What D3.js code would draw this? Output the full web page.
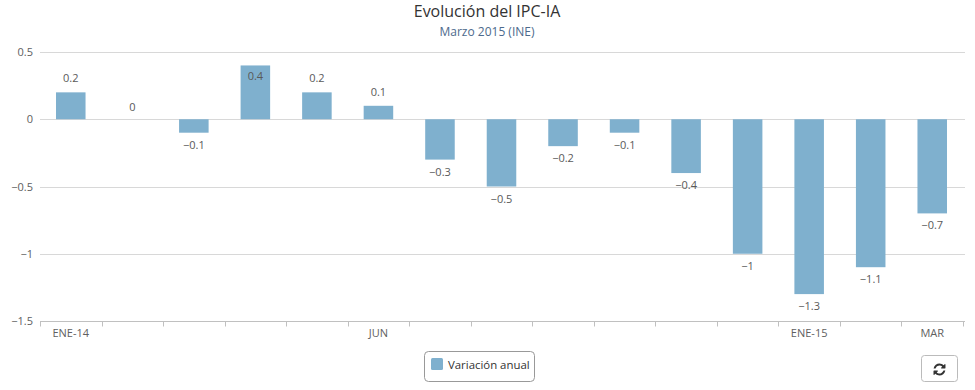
<!DOCTYPE html>
<html><head><meta charset="utf-8">
<script src="https://cdn.jsdelivr.net/npm/d3@7"></script>
<style>
body{margin:0;background:#fff;}
svg{font-family:"Open Sans","DejaVu Sans",sans-serif;}
</style></head>
<body><svg id="c" width="975" height="390"></svg>
<script>
const categories = ["ENE-14","FEB","MAR","ABR","MAY","JUN","JUL","AGO","SEP","OCT","NOV","DIC","ENE-15","FEB","MAR"];
const shownIdx = [0, 5, 12, 14];
const values = [0.2, 0, -0.1, 0.4, 0.2, 0.1, -0.3, -0.5, -0.2, -0.1, -0.4, -1, -1.3, -1.1, -0.7];
const yTicks = [0.5, 0, -0.5, -1, -1.5];
const seriesName = "Variación anual";

const svg = d3.select("#c");
const ids = categories.map((c,i)=>i);
const x = d3.scaleBand().domain(ids).range([40, 963]).paddingInner(0.52).paddingOuter(0.26);
const y = d3.scaleLinear().domain([-1.5, 0.5]).range([321, 52]);
const barColor = "#7fb0ce";

// title
svg.append("text").attr("x",487).attr("y",17).attr("text-anchor","middle")
  .attr("font-size",16).attr("fill","#333").text("Evolución del IPC-IA");
svg.append("text").attr("x",487).attr("y",36).attr("text-anchor","middle")
  .attr("font-size",12).attr("fill","#4d6a8c").text("Marzo 2015 (INE)");

// grid
svg.append("g").selectAll("line").data(yTicks.filter(d=>d>-1.5)).join("line")
  .attr("x1",40).attr("x2",965).attr("y1",d=>Math.round(y(d))+0.5).attr("y2",d=>Math.round(y(d))+0.5)
  .attr("stroke","#d8d8d8").attr("stroke-width",1);

// y labels
svg.append("g").selectAll("text").data(yTicks).join("text")
  .attr("x",33).attr("y",d=>y(d)+4).attr("text-anchor","end")
  .attr("font-size",11).attr("fill","#606060").text(d=>d3.format("")(d));

// x axis
const xa = d3.axisBottom(x).tickSize(0).tickFormat(i=>shownIdx.includes(i)?categories[i]:"");
const gx = svg.append("g").attr("transform","translate(0,321.5)").call(xa);
gx.select(".domain").attr("stroke","#c0c0c0").attr("d","M40,0H965");
gx.selectAll("text").attr("font-size",11).attr("fill","#606060").attr("dy","1.1em").attr("font-family","'Open Sans','DejaVu Sans',sans-serif");
// boundary ticks
const bounds = ids.map(i=>x(i)-x.step()*x.paddingInner()/2).concat([963]);
gx.append("g").selectAll("line").data(bounds).join("line")
  .attr("x1",d=>Math.round(d)+0.5).attr("x2",d=>Math.round(d)+0.5).attr("y1",0).attr("y2",5)
  .attr("stroke","#c0c0c0");

// bars
svg.append("g").selectAll("rect").data(values).join("rect")
  .attr("x",(d,i)=>x(i)).attr("width",x.bandwidth())
  .attr("y",d=>y(Math.max(0,d))).attr("height",d=>Math.abs(y(d)-y(0)))
  .attr("fill",barColor);

// value labels
svg.append("g").selectAll("text").data(values).join("text")
  .attr("x",(d,i)=>x(i)+x.bandwidth()/2)
  .attr("y",d=>{
    if(d>0){ const top=y(d); return top-14<52 ? top+15 : top-10; }
    if(d===0) return y(0)-8;
    return y(d)+16;
  })
  .attr("text-anchor","middle").attr("font-size",11).attr("fill","#595959")
  .text(d=>d3.format("")(d));

// legend
const lg = svg.append("g");
lg.append("rect").attr("x",424.5).attr("y",351.5).attr("width",110).attr("height",30).attr("rx",4)
  .attr("fill","#fff").attr("stroke","#999");
lg.append("rect").attr("x",431).attr("y",358).attr("width",12).attr("height",12).attr("rx",1.5).attr("fill",barColor);
lg.append("text").attr("x",448).attr("y",369).attr("font-size",11.4).attr("fill","#333").text(seriesName);

// refresh button
const bt = svg.append("g");
bt.append("rect").attr("x",921.5).attr("y",355.5).attr("width",36).attr("height",26).attr("rx",3)
  .attr("fill","#fff").attr("stroke","#bbb");
bt.append("path").attr("transform","translate(933.5,362.5) scale(0.0078)")
  .attr("fill","#333")
  .attr("d","M1511 1056q0 5-1 7-64 268-268 434.5t-478 166.5q-146 0-282.5-55t-243.5-157l-129 129q-19 19-45 19t-45-19-19-45v-448q0-26 19-45t45-19h448q26 0 45 19t19 45-19 45l-137 137q71 66 161 102t187 36q134 0 250-65t186-179q11-17 53-117 8-23 30-23h192q13 0 22.5 9.5t9.5 22.5zm25-800v448q0 26-19 45t-45 19h-448q-26 0-45-19t-19-45 19-45l138-138q-148-137-349-137-134 0-250 65t-186 179q-11 17-53 117-8 23-30 23h-199q-13 0-22.5-9.5t-9.5-22.5v-7q65-268 270-434.5t480-166.5q146 0 284 55.5t245 156.5l130-129q19-19 45-19t45 19 19 45z");
</script></body></html>
